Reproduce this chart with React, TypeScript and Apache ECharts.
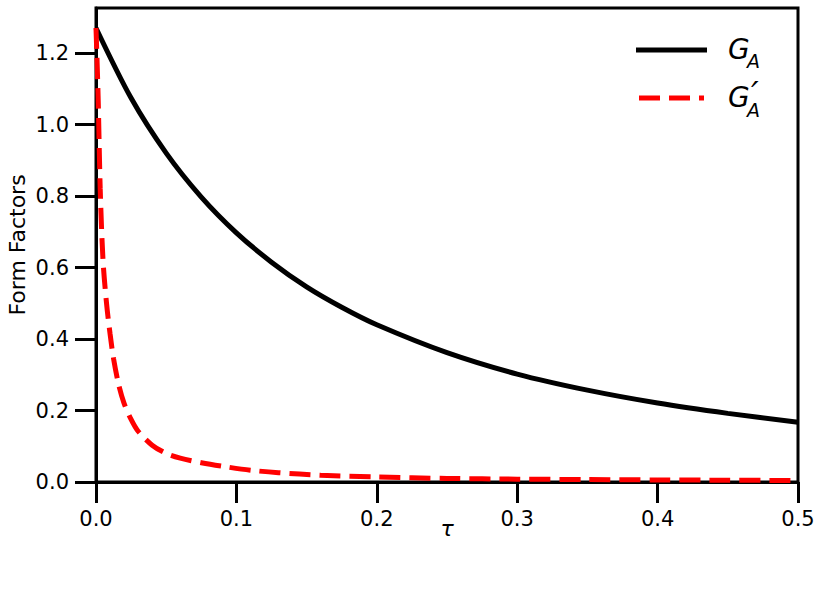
import React, { useEffect, useRef } from "react";
import * as echarts from "echarts";

// tau values and form factor readings
const tauA = [0, 0.025, 0.05, 0.075, 0.1, 0.125, 0.15, 0.175, 0.2, 0.25, 0.3, 0.35, 0.4, 0.45, 0.5];
const gA = [1.27, 1.074, 0.92, 0.797, 0.697, 0.615, 0.546, 0.489, 0.44, 0.362, 0.302, 0.257, 0.221, 0.192, 0.167];

const tauP = [0, 0.0015, 0.003, 0.005, 0.0075, 0.01, 0.0125, 0.016, 0.02, 0.025, 0.03, 0.04, 0.05, 0.06, 0.075, 0.09, 0.11, 0.13, 0.16, 0.2, 0.25, 0.3, 0.35, 0.4, 0.45, 0.5];
const gAp = [1.27, 1.08, 0.82, 0.62, 0.5, 0.415, 0.345, 0.275, 0.22, 0.175, 0.142, 0.103, 0.08, 0.067, 0.054, 0.044, 0.033, 0.026, 0.019, 0.014, 0.01, 0.008, 0.0068, 0.0058, 0.005, 0.0042];

const xTicks = [0, 0.1, 0.2, 0.3, 0.4, 0.5];
const yTicks = [0, 0.2, 0.4, 0.6, 0.8, 1.0, 1.2];

const seriesNames = ["G_A", "G'_A"];

export default function App() {
  const ref = useRef<HTMLDivElement>(null);
  useEffect(() => {
    if (!ref.current) return;
    const chart = echarts.init(ref.current, null, { renderer: "svg" });
    const font = "DejaVu Sans";
    const option: any = {
      animation: false,
      backgroundColor: "#fff",
      grid: {
        left: 96,
        right: 24,
        top: 8,
        bottom: 115,
        containLabel: false,
        outerBoundsMode: "none",
        show: true,
        borderColor: "#000",
        borderWidth: 3,
        backgroundColor: "transparent",
      },
      xAxis: {
        type: "value",
        min: 0,
        max: 0.5,
        interval: 0.1,
        name: "τ",
        nameLocation: "middle",
        nameGap: 35,
        nameMoveOverlap: false,
        nameTextStyle: { fontFamily: font, fontSize: 22, fontStyle: "italic", color: "#000" },
        axisLine: { show: true, lineStyle: { color: "#000", width: 3 } },
        axisTick: { show: true, length: 21, lineStyle: { color: "#000", width: 3 }, customValues: xTicks },
        axisLabel: {
          customValues: xTicks,
          margin: 26,
          fontFamily: font,
          fontSize: 21,
          color: "#000",
          formatter: (v: number) => v.toFixed(1),
        },
        splitLine: { show: false },
      },
      yAxis: {
        type: "value",
        min: 0,
        max: 1.326,
        name: "Form Factors",
        nameLocation: "middle",
        nameGap: 68,
        nameMoveOverlap: false,
        nameTextStyle: { fontFamily: font, fontSize: 22, color: "#000" },
        axisLine: { show: true, lineStyle: { color: "#000", width: 3 } },
        axisTick: { show: true, length: 21, lineStyle: { color: "#000", width: 3 }, customValues: yTicks },
        axisLabel: {
          customValues: yTicks,
          margin: 27,
          fontFamily: font,
          fontSize: 21,
          color: "#000",
          formatter: (v: number) => v.toFixed(1),
        },
        splitLine: { show: false },
      },
      series: [
        {
          name: seriesNames[0],
          type: "line",
          data: tauA.map((t, i) => [t, gA[i]]),
          smooth: 0.3,
          symbol: "none",
          clip: false,
          lineStyle: { color: "#000", width: 5 },
          z: 3,
        },
        {
          name: seriesNames[1],
          type: "line",
          data: tauP.map((t, i) => [t, gAp[i]]),
          smooth: 0.3,
          symbol: "none",
          clip: false,
          lineStyle: { color: "#ff0000", width: 5, type: [21, 9] },
          z: 4,
        },
      ],
      graphic: [
        { type: "line", shape: { x1: 636, y1: 50, x2: 707, y2: 50 }, style: { stroke: "#000", lineWidth: 5 } },
        { type: "text", x: 728, y: 35, style: { text: "G", font: `italic 28px '${font}'`, fill: "#000" } },
        { type: "text", x: 747, y: 51, style: { text: "A", font: `italic 19px '${font}'`, fill: "#000" } },
        { type: "line", shape: { x1: 639, y1: 98, x2: 704, y2: 98 }, style: { stroke: "#ff0000", lineWidth: 5, lineDash: [21, 9] } },
        { type: "text", x: 728, y: 83, style: { text: "G", font: `italic 28px '${font}'`, fill: "#000" } },
        { type: "text", x: 751, y: 77, style: { text: "′", font: `italic 34px '${font}'`, fill: "#000" } },
        { type: "text", x: 747, y: 100, style: { text: "A", font: `italic 19px '${font}'`, fill: "#000" } },
      ],
    };
    chart.setOption(option);
    return () => chart.dispose();
  }, []);
  return <div ref={ref} style={{ width: 822, height: 597, position: "absolute", left: 0, top: 0 }} />;
}
